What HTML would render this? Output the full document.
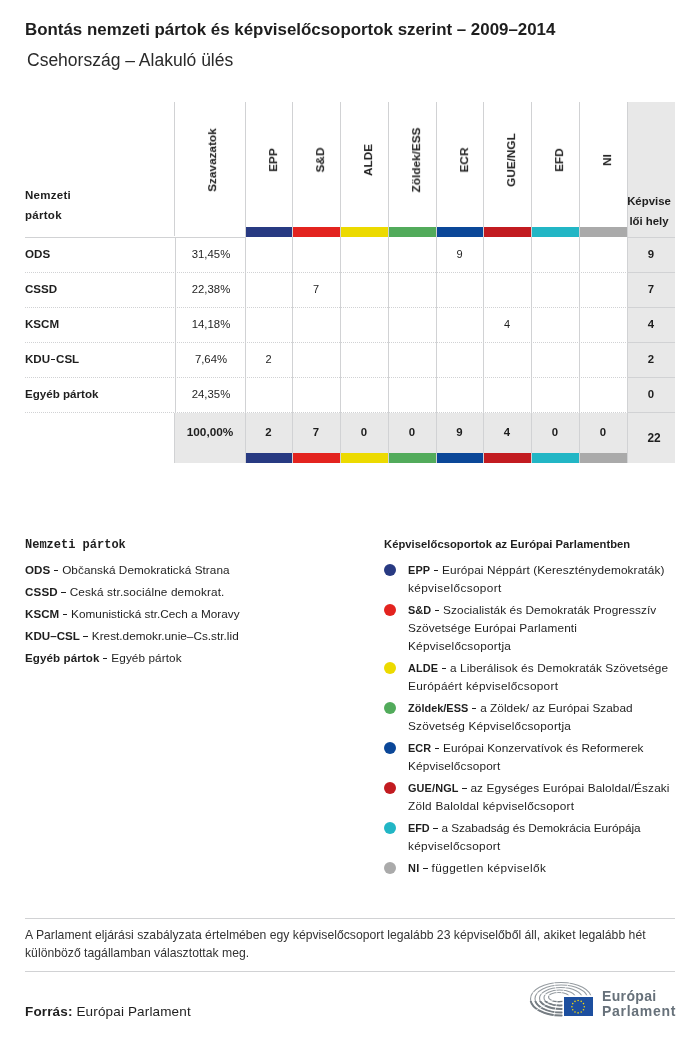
<!DOCTYPE html>
<html><head><meta charset="utf-8"><title>Bontás nemzeti pártok és képviselőcsoportok szerint</title>
<style>html,body{margin:0;padding:0;background:#fff;} body{width:700px;height:1037px;position:relative;overflow:hidden;} body>div{will-change:transform;} b{font-weight:bold;} .dsh2{display:inline-block;width:4.3px;height:1.7px;background:#1e1e1e;vertical-align:2.8px;margin:0 1px 0 0.6px;} .dsh{display:inline-block;width:4.6px;height:1.6px;background:#1e1e1e;vertical-align:2.6px;margin-left:3.4px;margin-right:3.9px;} .nm{font-size:10.9px;} .nl{font-size:11.6px;}</style>
</head><body>
<div style="position:absolute;left:24.8px;top:19.50px;font:bold 16.9px/20.28px 'Liberation Sans', sans-serif;color:#1e1e1e;white-space:nowrap;">Bontás nemzeti pártok és képviselőcsoportok szerint – 2009–2014</div>
<div style="position:absolute;left:27px;top:49.94px;font:normal 17.5px/21.0px 'Liberation Sans', sans-serif;color:#2a2a2a;white-space:nowrap;">Csehország – Alakuló ülés</div>
<div style="position:absolute;left:627px;top:102px;width:48px;height:361px;background:#e8e8e8;"></div>
<div style="position:absolute;left:174px;top:413px;width:453px;height:50px;background:#e8e8e8;"></div>
<div style="position:absolute;left:174px;top:102px;width:1px;height:134px;background:#d1d2d4;"></div>
<div style="position:absolute;left:245px;top:102px;width:1px;height:361px;background:#d1d2d4;"></div>
<div style="position:absolute;left:292px;top:102px;width:1px;height:361px;background:#d1d2d4;"></div>
<div style="position:absolute;left:340px;top:102px;width:1px;height:361px;background:#d1d2d4;"></div>
<div style="position:absolute;left:388px;top:102px;width:1px;height:361px;background:#d1d2d4;"></div>
<div style="position:absolute;left:436px;top:102px;width:1px;height:361px;background:#d1d2d4;"></div>
<div style="position:absolute;left:483px;top:102px;width:1px;height:361px;background:#d1d2d4;"></div>
<div style="position:absolute;left:531px;top:102px;width:1px;height:361px;background:#d1d2d4;"></div>
<div style="position:absolute;left:579px;top:102px;width:1px;height:361px;background:#d1d2d4;"></div>
<div style="position:absolute;left:175px;top:238px;width:1px;height:175px;background:#d1d2d4;"></div>
<div style="position:absolute;left:174px;top:413px;width:1px;height:50px;background:#d1d2d4;"></div>
<div style="position:absolute;left:627px;top:102px;width:1px;height:361px;background:#d1d2d4;"></div>
<div style="position:absolute;left:25px;top:237px;width:220px;height:1px;background:#d1d2d4;"></div>
<div style="position:absolute;left:627px;top:237px;width:48px;height:1px;background:#d1d2d4;"></div>
<div style="position:absolute;left:25px;top:272px;width:602px;height:1px;background:repeating-linear-gradient(90deg,#d1d2d4 0 1px,transparent 1px 2px);"></div>
<div style="position:absolute;left:627px;top:272px;width:48px;height:1px;background:#d1d2d4;"></div>
<div style="position:absolute;left:25px;top:307px;width:602px;height:1px;background:repeating-linear-gradient(90deg,#d1d2d4 0 1px,transparent 1px 2px);"></div>
<div style="position:absolute;left:627px;top:307px;width:48px;height:1px;background:#d1d2d4;"></div>
<div style="position:absolute;left:25px;top:342px;width:602px;height:1px;background:repeating-linear-gradient(90deg,#d1d2d4 0 1px,transparent 1px 2px);"></div>
<div style="position:absolute;left:627px;top:342px;width:48px;height:1px;background:#d1d2d4;"></div>
<div style="position:absolute;left:25px;top:377px;width:602px;height:1px;background:repeating-linear-gradient(90deg,#d1d2d4 0 1px,transparent 1px 2px);"></div>
<div style="position:absolute;left:627px;top:377px;width:48px;height:1px;background:#d1d2d4;"></div>
<div style="position:absolute;left:25px;top:412px;width:602px;height:1px;background:repeating-linear-gradient(90deg,#d1d2d4 0 1px,transparent 1px 2px);"></div>
<div style="position:absolute;left:627px;top:412px;width:48px;height:1px;background:#d1d2d4;"></div>
<div style="position:absolute;left:246px;top:227px;width:46px;height:10px;background:#283a82;"></div>
<div style="position:absolute;left:246px;top:453px;width:46px;height:10px;background:#283a82;"></div>
<div style="position:absolute;left:293px;top:227px;width:47px;height:10px;background:#e3231f;"></div>
<div style="position:absolute;left:293px;top:453px;width:47px;height:10px;background:#e3231f;"></div>
<div style="position:absolute;left:341px;top:227px;width:47px;height:10px;background:#ecda00;"></div>
<div style="position:absolute;left:341px;top:453px;width:47px;height:10px;background:#ecda00;"></div>
<div style="position:absolute;left:389px;top:227px;width:47px;height:10px;background:#52ab5b;"></div>
<div style="position:absolute;left:389px;top:453px;width:47px;height:10px;background:#52ab5b;"></div>
<div style="position:absolute;left:437px;top:227px;width:46px;height:10px;background:#0b4798;"></div>
<div style="position:absolute;left:437px;top:453px;width:46px;height:10px;background:#0b4798;"></div>
<div style="position:absolute;left:484px;top:227px;width:47px;height:10px;background:#c21b20;"></div>
<div style="position:absolute;left:484px;top:453px;width:47px;height:10px;background:#c21b20;"></div>
<div style="position:absolute;left:532px;top:227px;width:47px;height:10px;background:#22b6c5;"></div>
<div style="position:absolute;left:532px;top:453px;width:47px;height:10px;background:#22b6c5;"></div>
<div style="position:absolute;left:580px;top:227px;width:47px;height:10px;background:#aaaaaa;"></div>
<div style="position:absolute;left:580px;top:453px;width:47px;height:10px;background:#aaaaaa;"></div>
<div style="position:absolute;left:24.6px;top:188.82px;font:bold 11.5px/13.8px 'Liberation Sans', sans-serif;color:#1e1e1e;white-space:nowrap;letter-spacing:0.28px;">Nemzeti</div>
<div style="position:absolute;left:24.6px;top:208.82px;font:bold 11.5px/13.8px 'Liberation Sans', sans-serif;color:#1e1e1e;white-space:nowrap;letter-spacing:0.28px;">pártok</div>
<div style="position:absolute;left:213px;top:159.5px;width:0;height:0;"><div style="position:absolute;left:0;top:0;transform:translate(-50%,-50%) rotate(-90deg);font:bold 11.8px/11.8px 'Liberation Sans', sans-serif;color:#1e1e1e;white-space:nowrap;">Szavazatok</div></div>
<div style="position:absolute;left:274px;top:159.5px;width:0;height:0;"><div style="position:absolute;left:0;top:0;transform:translate(-50%,-50%) rotate(-90deg);font:bold 11.8px/11.8px 'Liberation Sans', sans-serif;color:#1e1e1e;white-space:nowrap;">EPP</div></div>
<div style="position:absolute;left:321px;top:159.5px;width:0;height:0;"><div style="position:absolute;left:0;top:0;transform:translate(-50%,-50%) rotate(-90deg);font:bold 11.8px/11.8px 'Liberation Sans', sans-serif;color:#1e1e1e;white-space:nowrap;">S&amp;D</div></div>
<div style="position:absolute;left:369px;top:159.5px;width:0;height:0;"><div style="position:absolute;left:0;top:0;transform:translate(-50%,-50%) rotate(-90deg);font:bold 11.8px/11.8px 'Liberation Sans', sans-serif;color:#1e1e1e;white-space:nowrap;">ALDE</div></div>
<div style="position:absolute;left:417px;top:159.5px;width:0;height:0;"><div style="position:absolute;left:0;top:0;transform:translate(-50%,-50%) rotate(-90deg);font:bold 11.8px/11.8px 'Liberation Sans', sans-serif;color:#1e1e1e;white-space:nowrap;">Zöldek/ESS</div></div>
<div style="position:absolute;left:465px;top:159.5px;width:0;height:0;"><div style="position:absolute;left:0;top:0;transform:translate(-50%,-50%) rotate(-90deg);font:bold 11.8px/11.8px 'Liberation Sans', sans-serif;color:#1e1e1e;white-space:nowrap;">ECR</div></div>
<div style="position:absolute;left:512px;top:159.5px;width:0;height:0;"><div style="position:absolute;left:0;top:0;transform:translate(-50%,-50%) rotate(-90deg);font:bold 11.8px/11.8px 'Liberation Sans', sans-serif;color:#1e1e1e;white-space:nowrap;">GUE/NGL</div></div>
<div style="position:absolute;left:560px;top:159.5px;width:0;height:0;"><div style="position:absolute;left:0;top:0;transform:translate(-50%,-50%) rotate(-90deg);font:bold 11.8px/11.8px 'Liberation Sans', sans-serif;color:#1e1e1e;white-space:nowrap;">EFD</div></div>
<div style="position:absolute;left:608px;top:159.5px;width:0;height:0;"><div style="position:absolute;left:0;top:0;transform:translate(-50%,-50%) rotate(-90deg);font:bold 11.8px/11.8px 'Liberation Sans', sans-serif;color:#1e1e1e;white-space:nowrap;">NI</div></div>
<div style="position:absolute;left:625.3px;top:195.21px;width:48px;text-align:center;font:bold 11.4px/13.68px 'Liberation Sans', sans-serif;color:#1e1e1e;white-space:nowrap;">Képvise</div>
<div style="position:absolute;left:625.3px;top:215.21px;width:48px;text-align:center;font:bold 11.4px/13.68px 'Liberation Sans', sans-serif;color:#1e1e1e;white-space:nowrap;">lői hely</div>
<div style="position:absolute;left:24.6px;top:246.82px;font:bold 11.6px/13.92px 'Liberation Sans', sans-serif;color:#1e1e1e;white-space:nowrap;">ODS</div>
<div style="position:absolute;left:175.5px;top:248.06px;width:70px;text-align:center;font:normal 11.35px/13.62px 'Liberation Sans', sans-serif;color:#1e1e1e;white-space:nowrap;">31,45%</div>
<div style="position:absolute;left:436px;top:248.39px;width:47px;text-align:center;font:normal 11px/13.2px 'Liberation Sans', sans-serif;color:#1e1e1e;white-space:nowrap;">9</div>
<div style="position:absolute;left:627px;top:248.01px;width:48px;text-align:center;font:bold 11.4px/13.68px 'Liberation Sans', sans-serif;color:#1e1e1e;white-space:nowrap;">9</div>
<div style="position:absolute;left:24.6px;top:281.82px;font:bold 11.6px/13.92px 'Liberation Sans', sans-serif;color:#1e1e1e;white-space:nowrap;">CSSD</div>
<div style="position:absolute;left:175.5px;top:283.06px;width:70px;text-align:center;font:normal 11.35px/13.62px 'Liberation Sans', sans-serif;color:#1e1e1e;white-space:nowrap;">22,38%</div>
<div style="position:absolute;left:292px;top:283.39px;width:48px;text-align:center;font:normal 11px/13.2px 'Liberation Sans', sans-serif;color:#1e1e1e;white-space:nowrap;">7</div>
<div style="position:absolute;left:627px;top:283.01px;width:48px;text-align:center;font:bold 11.4px/13.68px 'Liberation Sans', sans-serif;color:#1e1e1e;white-space:nowrap;">7</div>
<div style="position:absolute;left:24.6px;top:316.82px;font:bold 11.6px/13.92px 'Liberation Sans', sans-serif;color:#1e1e1e;white-space:nowrap;">KSCM</div>
<div style="position:absolute;left:175.5px;top:318.06px;width:70px;text-align:center;font:normal 11.35px/13.62px 'Liberation Sans', sans-serif;color:#1e1e1e;white-space:nowrap;">14,18%</div>
<div style="position:absolute;left:483px;top:318.39px;width:48px;text-align:center;font:normal 11px/13.2px 'Liberation Sans', sans-serif;color:#1e1e1e;white-space:nowrap;">4</div>
<div style="position:absolute;left:627px;top:318.01px;width:48px;text-align:center;font:bold 11.4px/13.68px 'Liberation Sans', sans-serif;color:#1e1e1e;white-space:nowrap;">4</div>
<div style="position:absolute;left:24.6px;top:351.82px;font:bold 11.6px/13.92px 'Liberation Sans', sans-serif;color:#1e1e1e;white-space:nowrap;">KDU<span class="dsh2"></span>CSL</div>
<div style="position:absolute;left:175.5px;top:353.06px;width:70px;text-align:center;font:normal 11.35px/13.62px 'Liberation Sans', sans-serif;color:#1e1e1e;white-space:nowrap;">7,64%</div>
<div style="position:absolute;left:245px;top:353.39px;width:47px;text-align:center;font:normal 11px/13.2px 'Liberation Sans', sans-serif;color:#1e1e1e;white-space:nowrap;">2</div>
<div style="position:absolute;left:627px;top:353.01px;width:48px;text-align:center;font:bold 11.4px/13.68px 'Liberation Sans', sans-serif;color:#1e1e1e;white-space:nowrap;">2</div>
<div style="position:absolute;left:24.6px;top:386.82px;font:bold 11.6px/13.92px 'Liberation Sans', sans-serif;color:#1e1e1e;white-space:nowrap;">Egyéb pártok</div>
<div style="position:absolute;left:175.5px;top:388.06px;width:70px;text-align:center;font:normal 11.35px/13.62px 'Liberation Sans', sans-serif;color:#1e1e1e;white-space:nowrap;">24,35%</div>
<div style="position:absolute;left:627px;top:388.01px;width:48px;text-align:center;font:bold 11.4px/13.68px 'Liberation Sans', sans-serif;color:#1e1e1e;white-space:nowrap;">0</div>
<div style="position:absolute;left:174.8px;top:425.03px;width:70px;text-align:center;font:bold 11.8px/14.16px 'Liberation Sans', sans-serif;color:#1e1e1e;white-space:nowrap;">100,00%</div>
<div style="position:absolute;left:245px;top:426.21px;width:47px;text-align:center;font:bold 11.4px/13.68px 'Liberation Sans', sans-serif;color:#1e1e1e;white-space:nowrap;">2</div>
<div style="position:absolute;left:292px;top:426.21px;width:48px;text-align:center;font:bold 11.4px/13.68px 'Liberation Sans', sans-serif;color:#1e1e1e;white-space:nowrap;">7</div>
<div style="position:absolute;left:340px;top:426.21px;width:48px;text-align:center;font:bold 11.4px/13.68px 'Liberation Sans', sans-serif;color:#1e1e1e;white-space:nowrap;">0</div>
<div style="position:absolute;left:388px;top:426.21px;width:48px;text-align:center;font:bold 11.4px/13.68px 'Liberation Sans', sans-serif;color:#1e1e1e;white-space:nowrap;">0</div>
<div style="position:absolute;left:436px;top:426.21px;width:47px;text-align:center;font:bold 11.4px/13.68px 'Liberation Sans', sans-serif;color:#1e1e1e;white-space:nowrap;">9</div>
<div style="position:absolute;left:483px;top:426.21px;width:48px;text-align:center;font:bold 11.4px/13.68px 'Liberation Sans', sans-serif;color:#1e1e1e;white-space:nowrap;">4</div>
<div style="position:absolute;left:531px;top:426.21px;width:48px;text-align:center;font:bold 11.4px/13.68px 'Liberation Sans', sans-serif;color:#1e1e1e;white-space:nowrap;">0</div>
<div style="position:absolute;left:579px;top:426.21px;width:48px;text-align:center;font:bold 11.4px/13.68px 'Liberation Sans', sans-serif;color:#1e1e1e;white-space:nowrap;">0</div>
<div style="position:absolute;left:629.5px;top:430.74px;width:48px;text-align:center;font:bold 11.9px/14.28px 'Liberation Sans', sans-serif;color:#1e1e1e;white-space:nowrap;">22</div>
<div style="position:absolute;left:25px;top:537.94px;font:bold 12px/14.4px 'Liberation Mono', monospace;color:#1e1e1e;white-space:nowrap;">Nemzeti pártok</div>
<div style="position:absolute;left:24.5px;top:562.58px;font:normal 11.75px/14.1px 'Liberation Sans', sans-serif;color:#1e1e1e;white-space:nowrap;letter-spacing:0.055px;"><b class="nl">ODS</b><span class="dsh"></span>Občanská Demokratická Strana</div>
<div style="position:absolute;left:24.5px;top:584.58px;font:normal 11.75px/14.1px 'Liberation Sans', sans-serif;color:#1e1e1e;white-space:nowrap;letter-spacing:0.141px;"><b class="nl">CSSD</b><span class="dsh"></span>Ceská str.sociálne demokrat.</div>
<div style="position:absolute;left:24.5px;top:606.58px;font:normal 11.75px/14.1px 'Liberation Sans', sans-serif;color:#1e1e1e;white-space:nowrap;letter-spacing:0.022px;"><b class="nl">KSCM</b><span class="dsh"></span>Komunistická str.Cech a Moravy</div>
<div style="position:absolute;left:24.5px;top:628.58px;font:normal 11.75px/14.1px 'Liberation Sans', sans-serif;color:#1e1e1e;white-space:nowrap;letter-spacing:0.022px;"><b class="nl">KDU–CSL</b><span class="dsh"></span>Krest.demokr.unie–Cs.str.lid</div>
<div style="position:absolute;left:24.5px;top:650.58px;font:normal 11.75px/14.1px 'Liberation Sans', sans-serif;color:#1e1e1e;white-space:nowrap;letter-spacing:0.085px;"><b class="nl">Egyéb pártok</b><span class="dsh"></span>Egyéb pártok</div>
<div style="position:absolute;left:384px;top:537.70px;font:bold 11.2px/13.44px 'Liberation Sans', sans-serif;color:#1e1e1e;white-space:nowrap;letter-spacing:0.061px;">Képviselőcsoportok az Európai Parlamentben</div>
<div style="position:absolute;left:384px;top:564px;width:12px;height:12px;border-radius:50%;background:#283a82;"></div>
<div style="position:absolute;left:408px;top:562.83px;font:normal 11.8px/14.16px 'Liberation Sans', sans-serif;color:#1e1e1e;white-space:nowrap;letter-spacing:0.126px;"><b class="nm">EPP</b><span class="dsh"></span>Európai Néppárt (Kereszténydemokraták)</div>
<div style="position:absolute;left:408px;top:580.83px;font:normal 11.8px/14.16px 'Liberation Sans', sans-serif;color:#1e1e1e;white-space:nowrap;letter-spacing:0.360px;">képviselőcsoport</div>
<div style="position:absolute;left:384px;top:604px;width:12px;height:12px;border-radius:50%;background:#e3231f;"></div>
<div style="position:absolute;left:408px;top:602.83px;font:normal 11.8px/14.16px 'Liberation Sans', sans-serif;color:#1e1e1e;white-space:nowrap;letter-spacing:0.070px;"><b class="nm">S&amp;D</b><span class="dsh"></span>Szocialisták és Demokraták Progresszív</div>
<div style="position:absolute;left:408px;top:620.83px;font:normal 11.8px/14.16px 'Liberation Sans', sans-serif;color:#1e1e1e;white-space:nowrap;letter-spacing:0.129px;">Szövetsége Európai Parlamenti</div>
<div style="position:absolute;left:408px;top:638.83px;font:normal 11.8px/14.16px 'Liberation Sans', sans-serif;color:#1e1e1e;white-space:nowrap;letter-spacing:0.229px;">Képviselőcsoportja</div>
<div style="position:absolute;left:384px;top:662px;width:12px;height:12px;border-radius:50%;background:#ecda00;"></div>
<div style="position:absolute;left:408px;top:660.83px;font:normal 11.8px/14.16px 'Liberation Sans', sans-serif;color:#1e1e1e;white-space:nowrap;letter-spacing:0.114px;"><b class="nm">ALDE</b><span class="dsh"></span>a Liberálisok és Demokraták Szövetsége</div>
<div style="position:absolute;left:408px;top:678.83px;font:normal 11.8px/14.16px 'Liberation Sans', sans-serif;color:#1e1e1e;white-space:nowrap;letter-spacing:0.280px;">Európáért képviselőcsoport</div>
<div style="position:absolute;left:384px;top:702px;width:12px;height:12px;border-radius:50%;background:#52ab5b;"></div>
<div style="position:absolute;left:408px;top:700.83px;font:normal 11.8px/14.16px 'Liberation Sans', sans-serif;color:#1e1e1e;white-space:nowrap;letter-spacing:0.036px;"><b class="nm">Zöldek/ESS</b><span class="dsh"></span>a Zöldek/ az Európai Szabad</div>
<div style="position:absolute;left:408px;top:718.83px;font:normal 11.8px/14.16px 'Liberation Sans', sans-serif;color:#1e1e1e;white-space:nowrap;letter-spacing:0.204px;">Szövetség Képviselőcsoportja</div>
<div style="position:absolute;left:384px;top:742px;width:12px;height:12px;border-radius:50%;background:#0b4798;"></div>
<div style="position:absolute;left:408px;top:740.83px;font:normal 11.8px/14.16px 'Liberation Sans', sans-serif;color:#1e1e1e;white-space:nowrap;letter-spacing:0.035px;"><b class="nm">ECR</b><span class="dsh"></span>Európai Konzervatívok és Reformerek</div>
<div style="position:absolute;left:408px;top:758.83px;font:normal 11.8px/14.16px 'Liberation Sans', sans-serif;color:#1e1e1e;white-space:nowrap;letter-spacing:0.160px;">Képviselőcsoport</div>
<div style="position:absolute;left:384px;top:782px;width:12px;height:12px;border-radius:50%;background:#c21b20;"></div>
<div style="position:absolute;left:408px;top:780.83px;font:normal 11.8px/14.16px 'Liberation Sans', sans-serif;color:#1e1e1e;white-space:nowrap;letter-spacing:0.127px;"><b class="nm">GUE/NGL</b><span class="dsh"></span>az Egységes Európai Baloldal/Északi</div>
<div style="position:absolute;left:408px;top:798.83px;font:normal 11.8px/14.16px 'Liberation Sans', sans-serif;color:#1e1e1e;white-space:nowrap;letter-spacing:0.231px;">Zöld Baloldal képviselőcsoport</div>
<div style="position:absolute;left:384px;top:822px;width:12px;height:12px;border-radius:50%;background:#22b6c5;"></div>
<div style="position:absolute;left:408px;top:820.83px;font:normal 11.8px/14.16px 'Liberation Sans', sans-serif;color:#1e1e1e;white-space:nowrap;letter-spacing:-0.069px;"><b class="nm">EFD</b><span class="dsh"></span>a Szabadság és Demokrácia Európája</div>
<div style="position:absolute;left:408px;top:838.83px;font:normal 11.8px/14.16px 'Liberation Sans', sans-serif;color:#1e1e1e;white-space:nowrap;letter-spacing:0.293px;">képviselőcsoport</div>
<div style="position:absolute;left:384px;top:862px;width:12px;height:12px;border-radius:50%;background:#aaaaaa;"></div>
<div style="position:absolute;left:408px;top:860.83px;font:normal 11.8px/14.16px 'Liberation Sans', sans-serif;color:#1e1e1e;white-space:nowrap;letter-spacing:0.392px;"><b class="nm">NI</b><span class="dsh"></span>független képviselők</div>
<div style="position:absolute;left:25px;top:918px;width:650px;height:1px;background:#d1d2d4;"></div>
<div style="position:absolute;left:24.5px;top:928.05px;font:normal 12.2px/14.64px 'Liberation Sans', sans-serif;color:#333;white-space:nowrap;letter-spacing:0.018px;">A Parlament eljárási szabályzata értelmében egy képviselőcsoport legalább 23 képviselőből áll, akiket legalább hét</div>
<div style="position:absolute;left:24.5px;top:945.85px;font:normal 12.2px/14.64px 'Liberation Sans', sans-serif;color:#333;white-space:nowrap;letter-spacing:0.016px;">különböző tagállamban választottak meg.</div>
<div style="position:absolute;left:25px;top:971px;width:650px;height:1px;background:#d1d2d4;"></div>
<div style="position:absolute;left:24.5px;top:1003.72px;font:normal 13.5px/16.2px 'Liberation Sans', sans-serif;color:#1e1e1e;white-space:nowrap;letter-spacing:0.150px;"><b>Forrás:</b> Európai Parlament</div>
<div style="position:absolute;left:601.5px;top:987.85px;font:bold 14px/16.8px 'Liberation Sans', sans-serif;color:#67717a;white-space:nowrap;letter-spacing:0.35px;">Európai</div>
<div style="position:absolute;left:601.5px;top:1002.85px;font:bold 14px/16.8px 'Liberation Sans', sans-serif;color:#67717a;white-space:nowrap;letter-spacing:0.72px;">Parlament</div>
<svg style="position:absolute;left:0;top:0" width="700" height="1037" viewBox="0 0 700 1037"><defs><clipPath id="hc"><path d="M520 975 H600 V995.2 H562.5 V1020 H520 Z"/></clipPath><clipPath id="hb"><path d="M520 1001 H562.5 V1020 H520 Z"/></clipPath></defs><g clip-path="url(#hc)"><ellipse cx="561" cy="999" rx="30.5" ry="16.5" fill="none" stroke="#979da2" stroke-width="1.15"/><ellipse cx="561.3" cy="998.75" rx="26.3" ry="13.75" fill="none" stroke="#979da2" stroke-width="1.15"/><ellipse cx="560.9" cy="998.25" rx="21.4" ry="10.75" fill="none" stroke="#979da2" stroke-width="1.15"/><ellipse cx="559.7" cy="997.75" rx="15.7" ry="7.75" fill="none" stroke="#979da2" stroke-width="1.15"/><ellipse cx="558.8" cy="997" rx="10.3" ry="4.5" fill="none" stroke="#979da2" stroke-width="1.15"/><g clip-path="url(#hb)"><ellipse cx="561" cy="999" rx="30.5" ry="16.5" fill="none" stroke="#767d83" stroke-width="1.9"/><ellipse cx="561.3" cy="998.75" rx="26.3" ry="13.75" fill="none" stroke="#767d83" stroke-width="1.9"/><ellipse cx="560.9" cy="998.25" rx="21.4" ry="10.75" fill="none" stroke="#767d83" stroke-width="1.9"/><ellipse cx="559.7" cy="997.75" rx="15.7" ry="7.75" fill="none" stroke="#767d83" stroke-width="1.9"/><ellipse cx="558.8" cy="997" rx="10.3" ry="4.5" fill="none" stroke="#767d83" stroke-width="1.9"/></g><line x1="558" y1="997" x2="552" y2="975" stroke="#fff" stroke-width="0.7"/><line x1="558" y1="997" x2="576" y2="975" stroke="#fff" stroke-width="0.7"/><line x1="558" y1="997" x2="520" y2="1020" stroke="#fff" stroke-width="0.7"/><line x1="558" y1="997" x2="553" y2="1020" stroke="#fff" stroke-width="0.7"/><line x1="558" y1="997" x2="522" y2="990" stroke="#fff" stroke-width="0.7"/></g></svg>
<svg style="position:absolute;left:564px;top:997px" width="29" height="19" viewBox="0 0 29 19"><rect width="29" height="19" fill="#1d4f9f"/><circle cx="14.10" cy="3.50" r="0.8" fill="#f5d90a"/><circle cx="17.20" cy="4.33" r="0.8" fill="#f5d90a"/><circle cx="19.47" cy="6.60" r="0.8" fill="#f5d90a"/><circle cx="20.30" cy="9.70" r="0.8" fill="#f5d90a"/><circle cx="19.47" cy="12.80" r="0.8" fill="#f5d90a"/><circle cx="17.20" cy="15.07" r="0.8" fill="#f5d90a"/><circle cx="14.10" cy="15.90" r="0.8" fill="#f5d90a"/><circle cx="11.00" cy="15.07" r="0.8" fill="#f5d90a"/><circle cx="8.73" cy="12.80" r="0.8" fill="#f5d90a"/><circle cx="7.90" cy="9.70" r="0.8" fill="#f5d90a"/><circle cx="8.73" cy="6.60" r="0.8" fill="#f5d90a"/><circle cx="11.00" cy="4.33" r="0.8" fill="#f5d90a"/></svg>
</body></html>
